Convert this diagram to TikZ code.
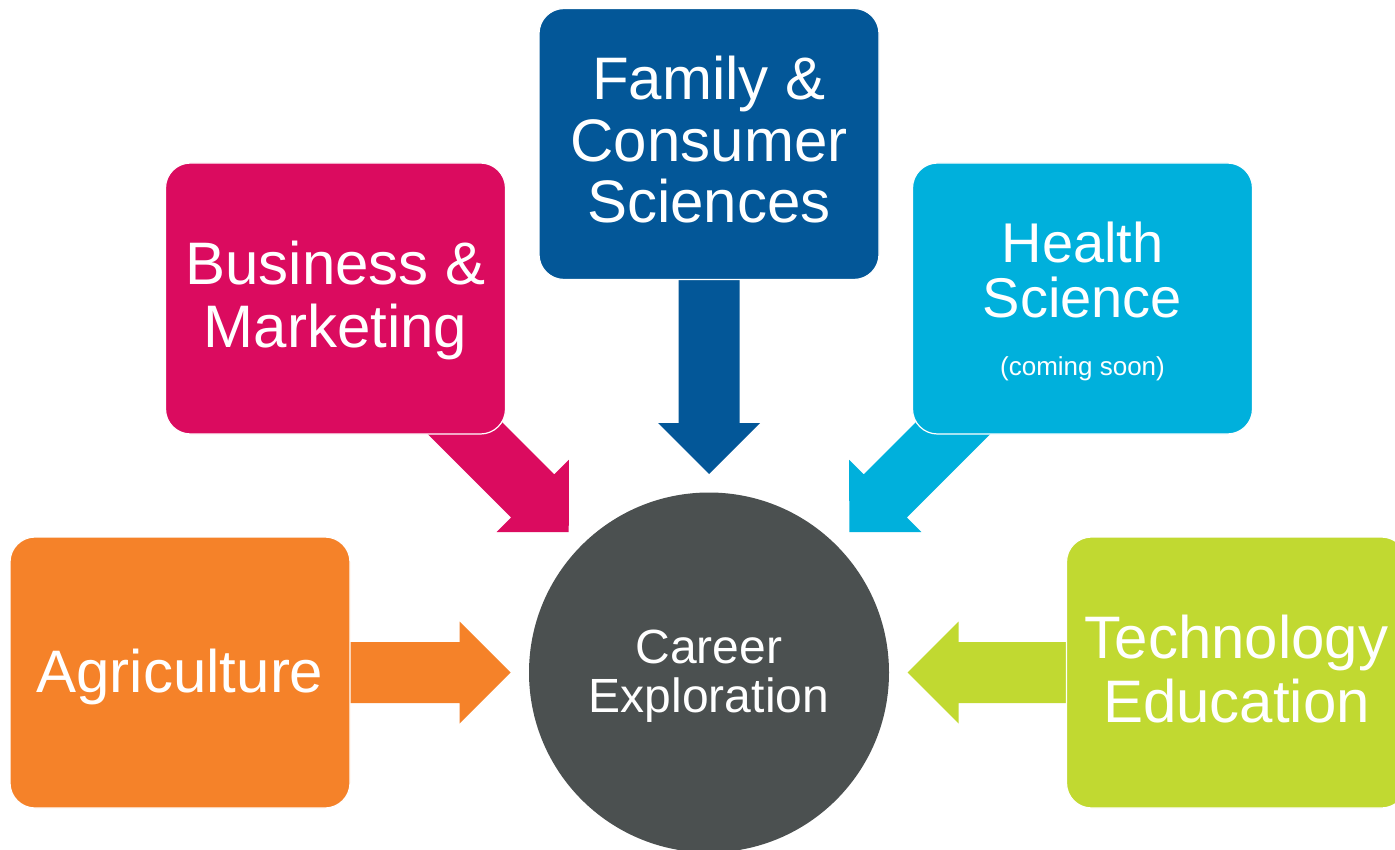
\documentclass[tikz,border=0pt]{standalone}
\usepackage{fontspec}
\setmainfont{Liberation Sans}
\usetikzlibrary{calc}
\pgfdeclarelayer{bg}
\pgfsetlayers{bg,main}
\definecolor{agricol}{HTML}{F58229}
\definecolor{buscol}{HTML}{DB0B5F}
\definecolor{famcol}{HTML}{035798}
\definecolor{healthcol}{HTML}{00B0DC}
\definecolor{techcol}{HTML}{C1D931}
\definecolor{careercol}{HTML}{4B5050}
\tikzset{
  catbox/.style={rectangle, rounded corners=25pt, minimum width=340pt, minimum height=271pt, draw=white, line width=1.2pt, inner sep=0pt},
  lbl/.style={text=white, align=center, inner sep=0pt, anchor=base},
}
% block arrow from the centre of box #1 towards the circle, colour #2
\newcommand\blockarrow[2]{%
  \coordinate (ba-t) at (#1.center);
  \coordinate (ba-p) at ($(career.center)!198.5pt!(#1.center)$);
  \coordinate (ba-b) at ($(ba-p)!51pt!(ba-t)$);
  \fill[#2] ($(ba-t)!30.5pt!90:(ba-p)$) -- ($(ba-b)!30.5pt!90:(ba-p)$) -- ($(ba-b)!51pt!90:(ba-p)$) -- (ba-p)
     -- ($(ba-b)!51pt!-90:(ba-p)$) -- ($(ba-b)!30.5pt!-90:(ba-p)$) -- ($(ba-t)!30.5pt!-90:(ba-p)$) -- cycle;
}
\begin{document}
\begin{tikzpicture}[x=1pt,y=-1pt]
\path[use as bounding box, clip] (0,0) rectangle (1395,850);
\node[circle, fill=careercol, minimum size=360pt, inner sep=0pt] (career) at (709,672.5) {};
\node[catbox, fill=agricol] (agri) at (180,672.5) {};
\node[catbox, fill=buscol] (bus) at (335.5,298.5) {};
\node[catbox, fill=famcol] (fam) at (709,144) {};
\node[catbox, fill=healthcol] (hlth) at (1082.5,298.5) {};
\node[catbox, fill=techcol] (tech) at (1236.5,672.5) {};

\node[lbl, font=\fontsize{60}{62}\selectfont] (agriT) at (180,692) {Agriculture};
\node[lbl, font=\fontsize{60}{63}\selectfont] (busT) at (335.5,348) {Business \&\\Marketing};
\node[lbl, font=\fontsize{60}{61.5}\selectfont] (famT) at (709,223) {Family \&\\Consumer\\Sciences};
\node[lbl, font=\fontsize{56}{55}\selectfont] (hlthT) at (1082.5,318) {Health\\Science};
\node[lbl, font=\fontsize{26}{30}\selectfont] (hlthS) at (1082.5,375) {(coming soon)};
\node[lbl, font=\fontsize{60}{64}\selectfont] (techT) at (1236.5,722) {Technology\\Education};
\node[lbl, font=\fontsize{48}{49}\selectfont] (careerT) at (709,712) {Career\\Exploration};

\begin{pgfonlayer}{bg}
\fill[white] (0,0) rectangle (1395,850);
\blockarrow{agri}{agricol}
\blockarrow{bus}{buscol}
\blockarrow{fam}{famcol}
\blockarrow{hlth}{healthcol}
\blockarrow{tech}{techcol}
\end{pgfonlayer}
\end{tikzpicture}
\end{document}
